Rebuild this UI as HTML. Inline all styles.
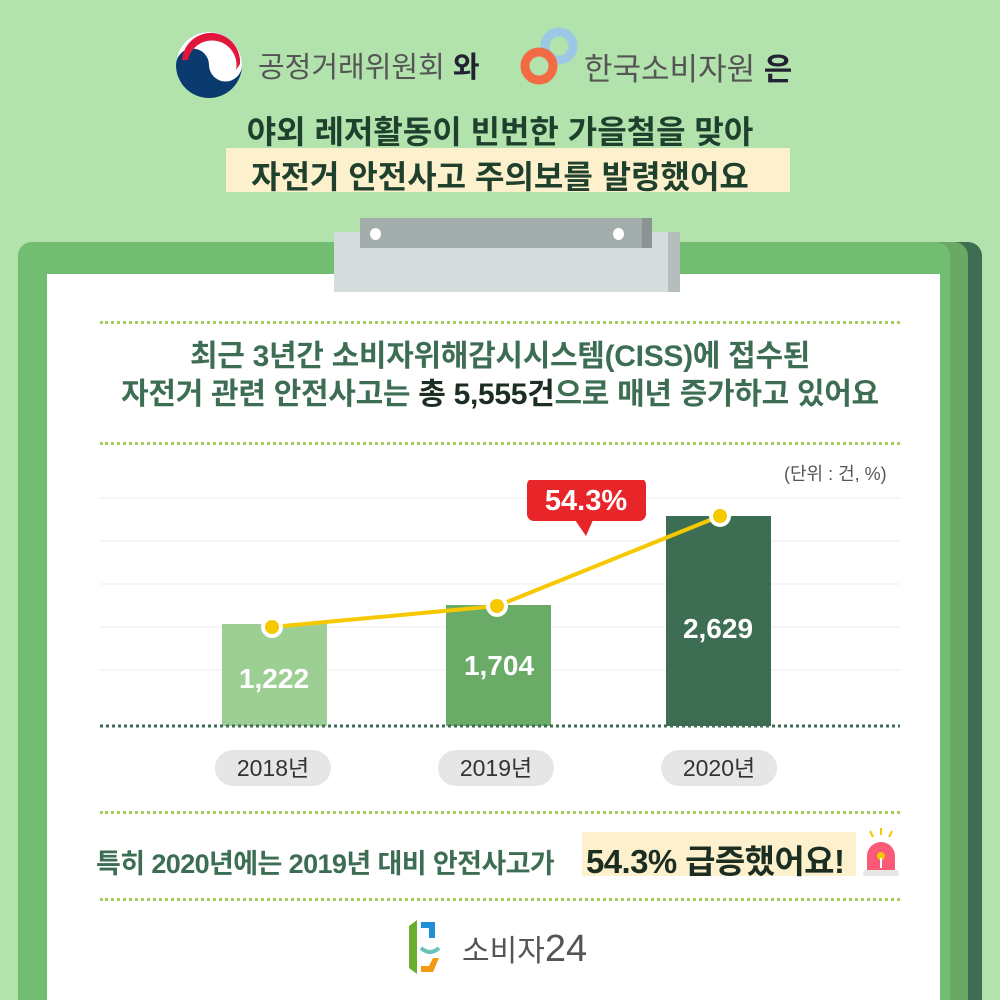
<!DOCTYPE html>
<html><head><meta charset="utf-8"><style>
html{overflow:hidden;height:1000px}
body{margin:0;width:1000px;height:1000px;background:#b2e3ad;position:relative;overflow:hidden;font-family:"Liberation Sans","Noto Sans CJK KR",sans-serif}
.a{position:absolute}
.t{position:absolute;white-space:nowrap;text-align:center}
.dot{position:absolute;left:100px;width:800px;height:0;border-top:3px dotted #a6cf5f}
</style></head><body>
<svg class="a" style="left:174px;top:30px" width="72" height="70" viewBox="0 0 72 70">
<circle cx="35" cy="35" r="33" fill="#0b3b6e"/>
<path d="M2 35 A33 33 0 0 1 68 35 A16.5 16.5 0 0 1 35 35 A16.5 16.5 0 0 0 2 35Z" fill="#fff"/>
<path d="M8 30 A28 28 0 0 1 66 34 L62 40 A22 22 0 0 0 14 30Z" fill="#e0163a"/>
</svg>
<div class="t" style="left:258px;top:44px;font-size:29px;color:#555">공정거래위원회 <b style="color:#223">와</b></div>
<svg class="a" style="left:517px;top:24px" width="62" height="62"><circle cx="42" cy="22" r="14" fill="none" stroke="#9cc8e6" stroke-width="9"/><circle cx="22" cy="42" r="14" fill="none" stroke="#f26b45" stroke-width="9"/></svg>
<div class="t" style="left:584px;top:44px;font-size:31px;color:#555">한국소비자원 <b style="color:#223">은</b></div>
<div class="t" style="left:0;width:1000px;top:107px;font-size:32px;font-weight:bold;color:#20402e">야외 레저활동이 빈번한 가을철을 맞아</div>
<div class="a" style="left:226px;top:148px;width:564px;height:44px;background:#fdf1cd"></div>
<div class="t" style="left:0;width:1000px;top:152px;font-size:32px;font-weight:bold;color:#20402e">자전거 안전사고 주의보를 발령했어요</div>
<div class="a" style="left:30px;top:242px;width:952px;height:758px;background:#3d6e54;border-radius:14px 14px 0 0"></div>
<div class="a" style="left:18px;top:242px;width:950px;height:758px;background:#6aa866;border-radius:14px 14px 0 0"></div>
<div class="a" style="left:18px;top:242px;width:932px;height:758px;background:#72bd71;border-radius:14px 14px 0 0"></div>
<div class="a" style="left:47px;top:274px;width:893px;height:726px;background:#fff"></div>
<div class="a" style="left:334px;top:232px;width:346px;height:60px;background:#d6dcdb"></div>
<div class="a" style="left:668px;top:232px;width:12px;height:60px;background:#b6bebd"></div>
<div class="a" style="left:360px;top:218px;width:292px;height:30px;background:#a3adab"></div>
<div class="a" style="left:642px;top:218px;width:10px;height:30px;background:#8a9492"></div>
<div class="a" style="left:370px;top:228px;width:11px;height:12px;border-radius:50%;background:#fff"></div>
<div class="a" style="left:613px;top:228px;width:11px;height:12px;border-radius:50%;background:#fff"></div>
<div class="dot" style="top:321px"></div>
<div class="t" style="left:0;width:1000px;top:338px;font-size:30px;font-weight:bold;color:#3d6e54;line-height:38px;letter-spacing:-0.3px">최근 3년간 소비자위해감시시스템(CISS)에 접수된<br>자전거 관련 안전사고는 <span style="color:#1c2e22">총 5,555건</span>으로 매년 증가하고 있어요</div>
<div class="dot" style="top:442px"></div>
<div class="t" style="left:784px;top:460px;font-size:18px;color:#555">(단위 : 건, %)</div>
<svg class="a" style="left:0;top:480px" width="1000" height="320">
<g stroke="#ececec" stroke-width="1"><line x1="100" x2="900" y1="18" y2="18"/><line x1="100" x2="900" y1="61" y2="61"/><line x1="100" x2="900" y1="104" y2="104"/><line x1="100" x2="900" y1="147" y2="147"/><line x1="100" x2="900" y1="190" y2="190"/></g>
<rect x="222" y="144" width="105" height="102" fill="#9dcf94"/>
<rect x="446" y="125" width="105" height="121" fill="#6aab68"/>
<rect x="666" y="36" width="105" height="210" fill="#3d6e54"/>
<line x1="100" x2="900" y1="246" y2="246" stroke="#3d6e54" stroke-width="3" stroke-dasharray="3 3"/>
<polyline points="272,147 497,126 720,36" fill="none" stroke="#f5c800" stroke-width="4"/>
<g fill="#f5c800" stroke="#fff" stroke-width="4"><circle cx="272" cy="147" r="9"/><circle cx="497" cy="126" r="9"/><circle cx="720" cy="36" r="9"/></g>
<g font-family="Liberation Sans" font-weight="bold" font-size="28" fill="#fff" text-anchor="middle"><text x="274" y="208">1,222</text><text x="499" y="195">1,704</text><text x="718" y="158">2,629</text></g>
<rect x="527" y="-2" width="119" height="43" rx="7" fill="#e8262a"/>
<path d="M575 40 L586 56 L593 40Z" fill="#e8262a"/>
<text x="586" y="30" font-family="Liberation Sans" font-weight="bold" font-size="29" fill="#fff" text-anchor="middle">54.3%</text>
<g fill="#e6e6e6"><rect x="215" y="270" width="116" height="36" rx="18"/><rect x="438" y="270" width="116" height="36" rx="18"/><rect x="661" y="270" width="116" height="36" rx="18"/></g>
<g font-family="Liberation Sans,Noto Sans CJK KR" font-size="23" fill="#333" text-anchor="middle"><text x="273" y="296">2018년</text><text x="496" y="296">2019년</text><text x="719" y="296">2020년</text></g>
</svg>
<div class="dot" style="top:811px"></div>
<div class="a" style="left:582px;top:832px;width:274px;height:44px;background:#fdf1cd"></div>
<div class="t" style="left:96px;top:842px;font-size:27px;font-weight:bold;color:#3d6e54;letter-spacing:-0.6px">특히 2020년에는 2019년 대비 안전사고가</div>
<div class="t" style="left:586px;top:835px;font-size:33px;font-weight:bold;color:#1c2e22;letter-spacing:-0.6px">54.3% 급증했어요!</div>
<svg class="a" style="left:860px;top:826px" width="42" height="52"><g stroke="#f5c800" stroke-width="2"><line x1="21" y1="2" x2="21" y2="9"/><line x1="10" y1="5" x2="13" y2="11"/><line x1="32" y1="5" x2="29" y2="11"/></g><path d="M7 44 V30 A14 14 0 0 1 35 30 V44Z" fill="#fa5a78"/><circle cx="21" cy="30" r="4" fill="#f5c800"/><rect x="20" y="32" width="2" height="10" fill="#fff"/><rect x="3" y="44" width="36" height="6" rx="3" fill="#e6e6e6"/></svg>
<div class="dot" style="top:898px"></div>
<svg class="a" style="left:405px;top:918px" width="50" height="58"><path d="M4 8 L12 2 V56 L4 50Z" fill="#6aae2f"/><path d="M16 4 H30 V20 H24 V10 H16Z" fill="#1d8fd6"/><path d="M16 54 H28 L34 40 H28 L24 48 H16Z" fill="#f29a12"/><path d="M16 30 Q25 38 34 30" fill="none" stroke="#6cc4b8" stroke-width="4"/></svg>
<div class="t" style="left:462px;top:926px;font-size:30px;color:#555">소비자<span style="font-size:38px;font-weight:300">24</span></div>
</body></html>
